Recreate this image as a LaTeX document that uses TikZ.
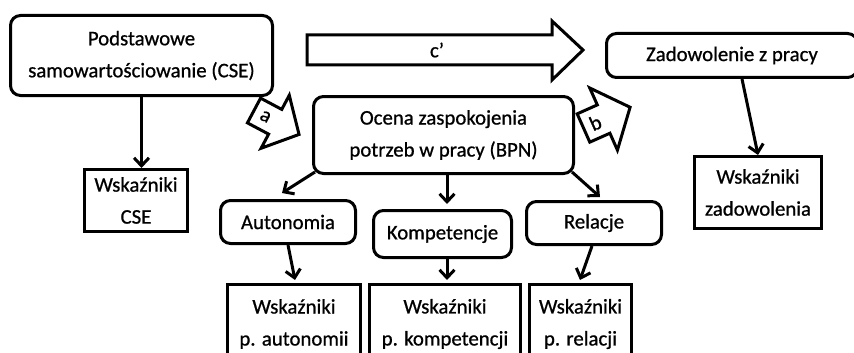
\documentclass[tikz,border=0pt]{standalone}
\usepackage{fontspec}
\setmainfont{Carlito}[FakeBold=0.8]
\usetikzlibrary{arrows.meta,calc}
\begin{document}
\begin{tikzpicture}[x=1pt,y=-1pt,
  txt/.style={font=\fontsize{20.8}{32}\selectfont,align=center,inner sep=0pt},
  box/.style={txt,draw,line width=3pt,rounded corners=10pt},
  sbox/.style={box,sharp corners},
  arr/.style={line width=3pt,-{Straight Barb[length=8pt,width=15pt]}},
  blk/.style={draw,line width=3pt,line join=miter,fill=white}]
\useasboundingbox (0,0) rectangle (854,353);
\fill[white] (0,0) rectangle (854,353);
\clip (0,0) rectangle (854,353);

% main boxes
\node[box,minimum width=262pt,minimum height=80pt] (cse) at (141.5,55.5) {Podstawowe\\samowartościowanie (CSE)};
\node[sbox,minimum width=103pt,minimum height=62pt] (wcse) at (136,200.5) {Wskaźniki\\CSE};
\node[box,minimum width=251pt,minimum height=44pt] (zad) at (732,55.5) {Zadowolenie z pracy};
\node[sbox,minimum width=127pt,minimum height=72pt] (wzad) at (758,192.5) {Wskaźniki\\zadowolenia};
\node[box,minimum width=260pt,minimum height=77pt] (ocena) at (443.5,135) {Ocena zaspokojenia\\potrzeb w pracy (BPN)};
\node[box,minimum width=135pt,minimum height=43pt] (auto) at (288,222) {Autonomia};
\node[box,minimum width=138pt,minimum height=47pt] (komp) at (442.5,234) {Kompetencje};
\node[box,minimum width=135pt,minimum height=43pt] (rel) at (594,223) {Relacje};
\node[sbox,minimum width=133pt,minimum height=79pt] (wauto) at (294,324) {Wskaźniki\\p. autonomii};
\node[sbox,minimum width=151pt,minimum height=79pt] (wkomp) at (445,324) {Wskaźniki\\p. kompetencji};
\node[sbox,minimum width=102pt,minimum height=79pt] (wrel) at (580.5,324) {Wskaźniki\\p. relacji};

% connectors
\draw[arr] (cse.south) -- (cse.south |- wcse.north);
\draw[arr] ($(zad.south)+(10,0)$) -- (wzad.north);
\draw[arr] ($(ocena.south west)+(3,-3)$) -- ($(auto.north)+(-6,-6)$);
\draw[arr] ($(ocena.south)+(3.5,0)$) -- ($(komp.north)+(4.5,-5)$);
\draw[arr] ($(ocena.south east)+(-3,-3)$) -- ($(rel.north)+(6,-3)$);
\draw[arr] (auto.south) -- ($(wauto.north)+(1,-3)$);
\draw[arr] ($(komp.south)+(4.5,0)$) -- ($(wkomp.north)+(2,-3)$);
\draw[arr] ($(rel.south)+(-2,0)$) -- ($(wrel.north)+(-0.5,-3)$);

% block arrow c'
\draw[blk] (307,35) -- (552,35) -- (552,21) -- (583,50) -- (552,80) -- (552,65) -- (307,65) -- cycle;
\node[txt] (lc) at (437,50) {c’};

% block arrow a
\begin{scope}[shift={(254,110.5)},rotate=-28]
\draw[blk] (0,-14) -- (24,-14) -- (24,-30) -- (51,0) -- (24,30) -- (24,14) -- (0,14) -- cycle;
\node[txt,rotate=-28] (la) at (13,0) {a};
\end{scope}

% block arrow b
\begin{scope}[shift={(583.5,128)},rotate=24]
\draw[blk] (0,-15.5) -- (22,-15.5) -- (22,-34) -- (51,0) -- (22,34) -- (22,15.5) -- (0,15.5) -- cycle;
\node[txt,rotate=24] (lb) at (13,0) {b};
\end{scope}
\end{tikzpicture}
\end{document}
